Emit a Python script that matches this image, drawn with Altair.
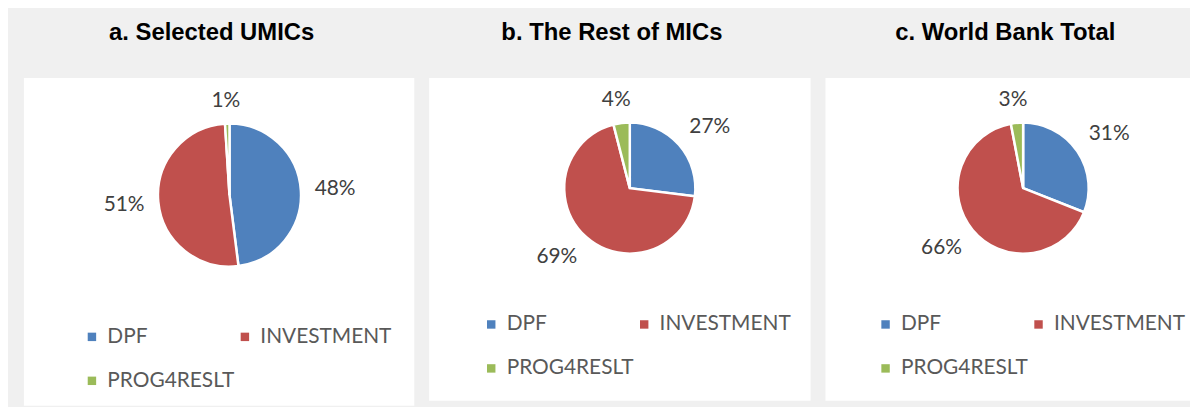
import math
import altair as alt
import pandas as pd

# ---- data ----
categories = ["DPF", "INVESTMENT", "PROG4RESLT"]
panel_titles = ["a. Selected UMICs", "b. The Rest of MICs", "c. World Bank Total"]
umics_share = [48, 51, 1]
rest_mics_share = [27, 69, 4]
wb_total_share = [31, 66, 3]
colors = ["#4F81BD", "#C0504D", "#9BBB59"]

series = [umics_share, rest_mics_share, wb_total_share]

# ---- layout (pixels in chart coordinates) ----
pie_geom = [(223, 187, 72), (626, 180, 66), (1022, 180, 66)]
legend_pos = [(74, 319), (476, 306.5), (873, 306.5)]
panel_boxes = [(16, 409, 69, 399), (424, 808, 69, 394), (823, 1190, 69, 394)]
title_x = [205, 608, 1004]
title_y = 31

LABEL_FONT = "Lato"
LABEL_GAP = 14      # gap between pie rim and label anchor
HALF_H = 9          # half height of a label box


def clamp(v):
    return max(-1.0, min(1.0, v))


rows = []
for p, vals in enumerate(series):
    r = pie_geom[p][2]
    total = sum(vals)
    cum = 0
    for i, (c, v) in enumerate(zip(categories, vals)):
        mid = (cum + v / 2) / total * 2 * math.pi
        cum += v
        lab = f"{v}%"
        half_w = (12 * (len(lab) - 1) + 17) / 2
        s, co = math.sin(mid), math.cos(mid)
        # anchor just outside the rim, label box pushed outward ("outside end")
        dx = (r + LABEL_GAP) * s + half_w * clamp(2 * s)
        dy = -(r + LABEL_GAP) * co - HALF_H * clamp(2 * co)
        rows.append({"panel": p, "category": c, "value": v, "order": i,
                     "label": lab,
                     "lab_theta": math.atan2(dx, -dy),
                     "lab_r": math.hypot(dx, dy)})
df = pd.DataFrame(rows)

one = pd.DataFrame({"k": [0]})
layers = []

# white panel boxes
for (x0, x1, y0, y1) in panel_boxes:
    layers.append(
        alt.Chart(one).mark_rect(fill="white").encode(
            x=alt.value(x0), x2=alt.value(x1), y=alt.value(y0), y2=alt.value(y1)
        )
    )

# titles
for t, tx in zip(panel_titles, title_x):
    layers.append(
        alt.Chart(pd.DataFrame({"t": [t]})).mark_text(
            font="Liberation Sans", fontWeight="bold", fontSize=24,
            color="#000000", align="center", baseline="alphabetic"
        ).encode(x=alt.value(tx), y=alt.value(title_y), text="t:N")
    )

# pies
for p in range(3):
    cx, cy, r = pie_geom[p]
    lx, ly = legend_pos[p]
    d = df[df.panel == p]
    arc = alt.Chart(d).mark_arc(outerRadius=r, stroke="white", strokeWidth=2.5).encode(
        theta=alt.Theta("value:Q", stack=True),
        order=alt.Order("order:Q"),
        x=alt.value(cx), y=alt.value(cy),
        color=alt.Color(
            "category:N",
            scale=alt.Scale(domain=categories, range=colors),
            legend=alt.Legend(
                title=None, orient="none", legendX=lx, legendY=ly,
                direction="horizontal", columns=2,
                symbolType="square", symbolSize=72, symbolStrokeWidth=0,
                labelFont=LABEL_FONT, labelFontSize=21, labelColor="#595959",
                labelOffset=5, columnPadding=-1.5, rowPadding=22.5, padding=0,
            ),
        ),
    )
    txt = alt.Chart(d).mark_text(
        font=LABEL_FONT, fontSize=21, color="#404040", align="center", baseline="middle"
    ).encode(
        x=alt.value(cx), y=alt.value(cy),
        theta=alt.Theta("lab_theta:Q", scale=None),
        radius=alt.Radius("lab_r:Q", scale=None),
        text="label:N",
    )
    layers += [arc, txt]

chart = alt.layer(*layers).resolve_scale(color="independent").properties(
    width=1190, height=399, padding=0, background="#F0F0F0",
    autosize=alt.AutoSizeParams(type="none"),
).configure_view(stroke=None)

chart.save("out.html", embed_options={"renderer": "svg", "actions": False})
